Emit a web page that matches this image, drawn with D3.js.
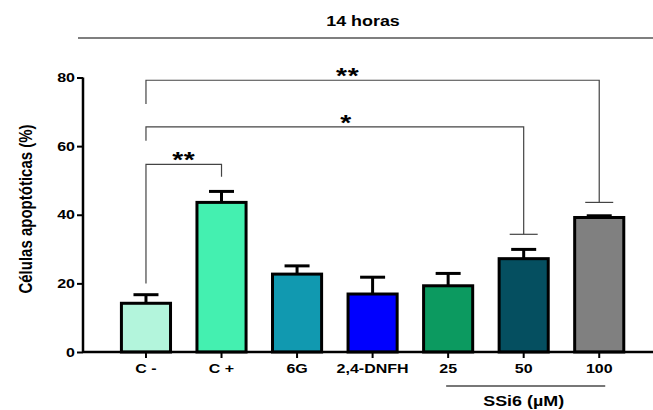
<!DOCTYPE html>
<html>
<head>
<meta charset="utf-8">
<script src="https://cdn.jsdelivr.net/npm/d3@7"></script>
<style>
  body { margin: 0; background: #fff; }
  svg { display: block; font-family: "Liberation Sans", Arial, sans-serif; }
</style>
</head>
<body>
<script>
// data
var categories = ["C -", "C +", "6G", "2,4-DNFH", "25", "50", "100"];
var means = [14.2, 43.6, 22.7, 16.9, 19.3, 27.2, 39.2];
var errors = [2.5, 3.2, 2.4, 4.9, 3.6, 2.7, 0.5];
var colors = ["#b3f5dc", "#44f0b0", "#1199b0", "#0000ff", "#0c9a60", "#054f60", "#808080"];
var yTicks = [0, 20, 40, 60, 80];

// significance brackets: from, to, height of the bar, where the left/right legs end, label
var sigFrom = ["C -", "C -", "C -"];
var sigTo = ["C +", "50", "100"];
var sigLevel = [54.7, 65.6, 79.2];
var sigLeftEnd = [20, 61.6, 72.3];
var sigRightEnd = [51.1, 34.3, 43.6];
var sigText = ["**", "*", "**"];

var width = 653, height = 410;
// the original figure is stretched sideways a bit, so is its text
var sx = 1.28;
// where the stars sit along each bracket (0 = left leg, 1 = right leg)
var starAt = [0.5, 0.53, 0.445];

var svg = d3.select("body").append("svg").attr("width", width).attr("height", height);

var x = d3.scaleBand().domain(categories).range([108.2, 637]).paddingInner(0.35).paddingOuter(0.175);
var y = d3.scaleLinear().domain([0, 80]).range([352, 77.5]);
var cx = function (c) { return x(c) + x.bandwidth() / 2; };

// title and line under it
svg.append("text").attr("transform", "translate(363,25.5) scale(" + sx + ",1)")
  .attr("text-anchor", "middle").attr("font-size", 14).attr("font-weight", "bold").text("14 horas");
svg.append("line").attr("x1", 78).attr("x2", 653).attr("y1", 38).attr("y2", 38)
  .attr("stroke", "#555").attr("stroke-width", 1.5);

// bars
svg.selectAll("rect.bar")
  .data(means)
  .enter()
  .append("rect")
  .attr("class", "bar")
  .attr("x", function (d, i) { return x(categories[i]); })
  .attr("y", function (d) { return y(d); })
  .attr("width", x.bandwidth())
  .attr("height", function (d) { return y(0) - y(d); })
  .attr("fill", function (d, i) { return colors[i]; })
  .attr("stroke", "#000")
  .attr("stroke-width", 3);

// error bars (upper only)
var eb = svg.selectAll("g.err").data(means).enter().append("g").attr("class", "err");
eb.append("line")
  .attr("x1", function (d, i) { return cx(categories[i]); })
  .attr("x2", function (d, i) { return cx(categories[i]); })
  .attr("y1", function (d) { return y(d); })
  .attr("y2", function (d, i) { return y(d + errors[i]); })
  .attr("stroke", "#000").attr("stroke-width", 3);
eb.append("line")
  .attr("x1", function (d, i) { return cx(categories[i]) - 12.5; })
  .attr("x2", function (d, i) { return cx(categories[i]) + 12.5; })
  .attr("y1", function (d, i) { return y(d + errors[i]); })
  .attr("y2", function (d, i) { return y(d + errors[i]); })
  .attr("stroke", "#000").attr("stroke-width", 3);

// y axis
var yAxis = d3.axisLeft(y).tickValues(yTicks).tickSize(6).tickPadding(2);
var gy = svg.append("g").attr("transform", "translate(83,0)").call(yAxis);
gy.select(".domain").attr("stroke-width", 2.5).attr("d", "M0," + y(80) + "V" + y(0));
gy.selectAll(".tick line").attr("stroke-width", 2);
gy.selectAll("text").attr("font-size", 12.5).attr("font-weight", "bold").attr("fill", "#000")
  .attr("font-family", "Liberation Sans, Arial, sans-serif")
  .attr("x", -8 / sx).attr("transform", "scale(" + sx + ",1)");

// x axis
var xAxis = d3.axisBottom(x).tickSize(6).tickPadding(6);
var gx = svg.append("g").attr("transform", "translate(0," + y(0) + ")").call(xAxis);
gx.select(".domain").attr("stroke-width", 2.5).attr("d", "M83,0H653");
gx.selectAll(".tick line").attr("stroke-width", 2);
gx.selectAll("text").attr("font-size", 12.5).attr("font-weight", "bold").attr("fill", "#000")
  .attr("font-family", "Liberation Sans, Arial, sans-serif")
  .attr("transform", "scale(" + sx + ",1)");

// y axis title
svg.append("text")
  .attr("transform", "translate(31.5,209) rotate(-90) scale(1," + sx + ")")
  .attr("text-anchor", "middle").attr("font-size", 15).attr("font-weight", "bold")
  .text("Células apoptóticas (%)");

// SSi6 group line and label
svg.append("line").attr("x1", cx("25") - 2).attr("x2", cx("100") + 6)
  .attr("y1", 386).attr("y2", 386).attr("stroke", "#777").attr("stroke-width", 2);
svg.append("text").attr("transform", "translate(" + cx("50") + ",406) scale(" + sx + ",1)")
  .attr("text-anchor", "middle").attr("font-size", 14).attr("font-weight", "bold").text("SSi6 (\u00b5M)");

// significance brackets
for (var i = 0; i < sigFrom.length; i++) {
  var x1 = cx(sigFrom[i]), x2 = cx(sigTo[i]);
  svg.append("path")
    .attr("d", "M" + x1 + "," + y(sigLeftEnd[i]) + "V" + y(sigLevel[i]) + "H" + x2 + "V" + y(sigRightEnd[i]))
    .attr("fill", "none").attr("stroke", "#444").attr("stroke-width", 1.2);
  if (i > 0) {
    svg.append("line").attr("x1", x2 - 14).attr("x2", x2 + 14)
      .attr("y1", y(sigRightEnd[i])).attr("y2", y(sigRightEnd[i]))
      .attr("stroke", "#444").attr("stroke-width", 1.2);
  }
  svg.append("text")
    .attr("transform", "translate(" + (x1 + (x2 - x1) * starAt[i]) + "," + (y(sigLevel[i]) + 3) + ") scale(" + sx + ",1)")
    .attr("text-anchor", "middle").attr("font-size", 22).attr("font-weight", "bold")
    .attr("letter-spacing", 0.5)
    .text(sigText[i]);
}
</script>
</body>
</html>
